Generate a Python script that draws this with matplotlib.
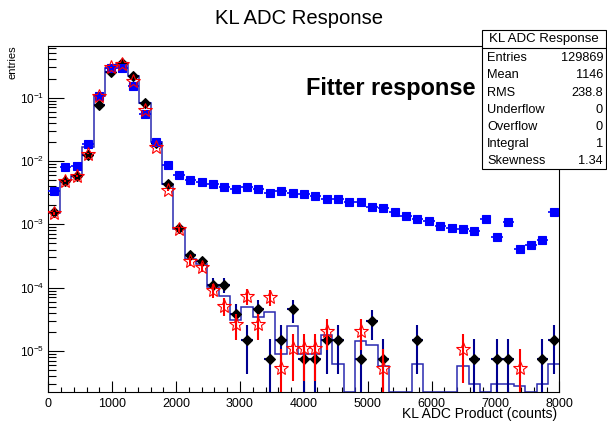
import numpy as np
import matplotlib
matplotlib.use("Agg")
import matplotlib.pyplot as plt
from matplotlib.patches import Rectangle
from matplotlib.lines import Line2D
from matplotlib.ticker import MultipleLocator, LogLocator, NullFormatter

plt.rcParams['font.family'] = ['Liberation Sans', 'DejaVu Sans']
plt.rcParams['mathtext.default'] = 'regular'

# histogram binning
x_min, x_max, n_bins = 0, 8000, 45

# blue squares (fitter response)
blue_vals = [3.3e-3, 7.9e-3, 8.4e-3, 1.84e-2, 0.107, 0.295, 0.29, 0.153, 0.056, 0.020,
             8.7e-3, 6.0e-3, 5.0e-3, 4.6e-3, 4.3e-3, 3.9e-3, 3.67e-3, 3.9e-3, 3.55e-3, 3.17e-3,
             3.33e-3, 3.17e-3, 2.99e-3, 2.8e-3, 2.51e-3, 2.51e-3, 2.21e-3, 2.25e-3, 1.88e-3, 1.84e-3,
             1.54e-3, 1.35e-3, 1.22e-3, 1.11e-3, 9.3e-4, 8.8e-4, 8.3e-4, 7.9e-4, 1.22e-3, 6.2e-4,
             1.07e-3, 4.1e-4, 4.7e-4, 5.6e-4, 1.58e-3]
# black diamonds
black_vals = [1.55e-3, 4.9e-3, 5.8e-3, 1.26e-2, 0.076, 0.256, 0.355, 0.22, 0.081, 0.019,
              4.3e-3, 8.7e-4, 3.25e-4, 2.6e-4, 1.12e-4, 1.12e-4, 3.9e-5, 1.5e-5, 4.6e-5, 7.6e-6,
              1.5e-5, 4.6e-5, 7.6e-6, 7.6e-6, 1.5e-5, 1.5e-5, 0, 7.6e-6, 3.0e-5, 7.6e-6,
              0, 0, 1.5e-5, 0, 0, 0, 0, 7.6e-6, 0, 7.6e-6,
              7.6e-6, 0, 0, 7.6e-6, 1.5e-5]
# red open stars
red_vals = [1.5e-3, 4.9e-3, 5.8e-3, 1.3e-2, 0.105, 0.30, 0.34, 0.184, 0.063, 0.0167,
            3.5e-3, 8.3e-4, 2.6e-4, 2.1e-4, 9.1e-5, 5.2e-5, 2.7e-5, 7.4e-5, 2.7e-5, 7.1e-5,
            5.3e-6, 1.1e-5, 1.1e-5, 1.1e-5, 2.1e-5, 0, 0, 2.1e-5, 0, 5.3e-6,
            0, 0, 0, 0, 0, 0, 1.07e-5, 0, 0, 0,
            0, 5.3e-6, 0, 0, 0]
# blue step histogram
hist_vals = [1.5e-3, 5.0e-3, 5.8e-3, 1.67e-2, 0.105, 0.29, 0.34, 0.22, 0.081, 0.020,
             4.4e-3, 8.5e-4, 2.8e-4, 2.4e-4, 1.02e-4, 7.5e-5, 3.05e-5, 4.9e-5, 3.5e-5, 4.2e-5,
             8.9e-6, 2.5e-5, 8.9e-6, 8.9e-6, 1.8e-5, 6.3e-6, 0, 1.45e-5, 1.23e-5, 5.8e-6,
             0, 0, 6.3e-6, 0, 0, 0, 5.8e-6, 3.05e-6, 0, 3.05e-6,
             3.05e-6, 2.8e-6, 0, 3.0e-6, 6.3e-6]

# weight of a single entry for each sample (for poisson errors)
blue_unit, black_unit, red_unit = 7.7e-6, 7.6e-6, 5.3e-6

stat_names = ['Entries', 'Mean', 'RMS', 'Underflow', 'Overflow', 'Integral', 'Skewness']
stat_values = ['129869', '1146', '238.8', '0', '0', '1', '1.34']

y_lo, y_hi = 2.23e-6, 0.66

W, H = 607, 422
fig = plt.figure(figsize=(W / 100, H / 100), dpi=100)
ax = fig.add_axes([48.3 / W, 1 - 392.3 / H, (559.5 - 48.3) / W, (392.3 - 45.7) / H])

edges = np.linspace(x_min, x_max, n_bins + 1)
centers = 0.5 * (edges[1:] + edges[:-1])
half = 0.5 * (edges[1] - edges[0])


def draw_points(vals, unit, ecolor, marker, ms, mfc, mec, elw, xerr, z):
    v = np.array(vals, dtype=float)
    m = v > 0
    x, y = centers[m], v[m]
    err = np.sqrt(y * unit)
    lo = np.minimum(err, y - 1e-12)
    ax.errorbar(x, y, yerr=[lo, err], xerr=half if xerr else None, fmt='none',
                ecolor=ecolor, elinewidth=elw, capsize=0, zorder=z)
    ax.plot(x, y, linestyle='none', marker=marker, ms=ms, mfc=mfc, mec=mec,
            mew=0.8, zorder=z + 0.5)


# step histogram, empty bins drawn on the bottom axis
h = np.array(hist_vals)
h = np.where(h > 0, h, y_lo)
ax.stairs(h, edges, baseline=None, color='#2a2ab0', lw=1.1, zorder=2)

draw_points(black_vals, black_unit, '#000090', 'D', 4.6, 'black', 'black', 1.5, True, 3)
draw_points(blue_vals, blue_unit, '#0000ff', 's', 5.8, '#0000ff', '#0000ff', 1.2, True, 4)
draw_points(red_vals, red_unit, '#ff0000', '*', 10.5, 'none', '#ff0000', 1.5, False, 5)

ax.set_yscale('log')
ax.set_xlim(x_min, x_max)
ax.set_ylim(y_lo, y_hi)
ax.xaxis.set_major_locator(MultipleLocator(1000))
ax.xaxis.set_minor_locator(MultipleLocator(200))
ax.yaxis.set_major_locator(LogLocator(base=10, numticks=20))
ax.yaxis.set_minor_locator(LogLocator(base=10, subs=np.arange(2, 10), numticks=20))
ax.yaxis.set_minor_formatter(NullFormatter())
ax.tick_params(axis='both', which='both', direction='in', top=False, right=False,
               width=0.8, colors='black')
ax.tick_params(axis='y', which='major', length=11.5, pad=3, labelsize=8.5)
ax.tick_params(axis='y', which='minor', length=5.8)
ax.tick_params(axis='x', which='major', length=7.7, pad=4, labelsize=9)
ax.tick_params(axis='x', which='minor', length=3.6)
for s in ax.spines.values():
    s.set_linewidth(0.8)


def px(x, y):
    return x / W, 1 - y / H


fig.text(*px(299, 18), 'KL ADC Response', ha='center', va='center', fontsize=14.6)
fig.text(*px(475, 89), 'Fitter response', ha='right', va='center', fontsize=16.9,
         fontweight='bold')
fig.text(*px(557, 414), 'KL ADC Product (counts)', ha='right', va='center', fontsize=10)
fig.text(*px(13, 45), 'entries', ha='center', va='top', rotation=90, fontsize=8)

# stats box
bx0, bx1, by0, by1 = 482, 606, 30, 169
fig.add_artist(Rectangle(px(bx0, by1), (bx1 - bx0) / W, (by1 - by0) / H,
                         transform=fig.transFigure, facecolor='white',
                         edgecolor='black', lw=0.8, zorder=10))
fig.add_artist(Line2D([bx0 / W, bx1 / W], [1 - 47.5 / H, 1 - 47.5 / H],
                      transform=fig.transFigure, color='black', lw=0.8, zorder=11))
fig.text(*px(544, 39), 'KL ADC Response', ha='center', va='center', fontsize=9.5, zorder=12)
for k, (name, val) in enumerate(zip(stat_names, stat_values)):
    yy = 58.3 + k * 17.1
    fig.text(*px(487, yy), name, ha='left', va='center', fontsize=9.2, zorder=12)
    fig.text(*px(603, yy), val, ha='right', va='center', fontsize=9.2, zorder=12)

fig.savefig('out.png', dpi=100)
